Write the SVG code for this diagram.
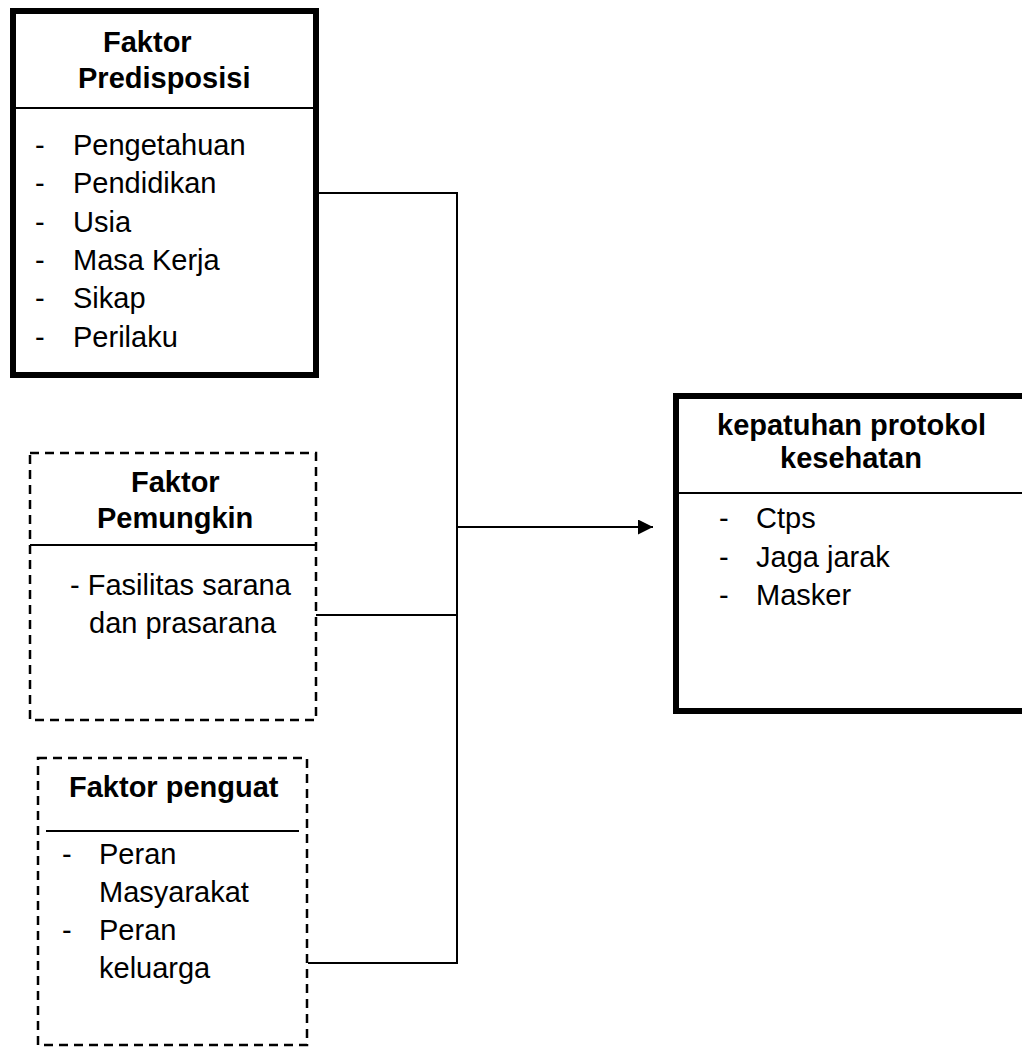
<svg xmlns="http://www.w3.org/2000/svg" width="1022" height="1055" viewBox="0 0 1022 1055">
<style>
text { font-family: "Liberation Sans", Arial, sans-serif; font-size: 29px; fill: #000; }
.b { font-weight: bold; }
.thick { fill: #fff; stroke: #000; stroke-width: 6; }
.dash { fill: #fff; stroke: #000; stroke-width: 2.5; stroke-dasharray: 9 6; }
.ln { stroke: #000; stroke-width: 2; fill: none; }
</style>
<defs>
<marker id="ah" viewBox="0 0 10 10" refX="10" refY="5" markerWidth="15" markerHeight="15" markerUnits="userSpaceOnUse" orient="auto">
<path d="M0,0 L10,5 L0,10 Z" fill="#000"/>
</marker>
</defs>
<rect width="1022" height="1055" fill="#fff"/>
<g id="connectors">
<polyline class="ln" points="319,193 457,193 457,963 308,963"/>
<line class="ln" x1="316" y1="615" x2="457" y2="615"/>
<line class="ln" x1="457" y1="527" x2="653" y2="527" marker-end="url(#ah)"/>
</g>
<g id="predisposisi">
<rect class="thick" x="13" y="11" width="303" height="364"/>
<line class="ln" x1="16" y1="108" x2="313" y2="108"/>
<text class="b" x="103" y="52">Faktor</text>
<text class="b" x="78" y="88">Predisposisi</text>
<text x="35" y="155">-</text><text x="73" y="155">Pengetahuan</text>
<text x="35" y="193">-</text><text x="73" y="193">Pendidikan</text>
<text x="35" y="232">-</text><text x="73" y="232">Usia</text>
<text x="35" y="270">-</text><text x="73" y="270">Masa Kerja</text>
<text x="35" y="308">-</text><text x="73" y="308">Sikap</text>
<text x="35" y="347">-</text><text x="73" y="347">Perilaku</text>
</g>
<g id="pemungkin">
<rect class="dash" x="30" y="453" width="286" height="267"/>
<line class="ln" x1="30" y1="545" x2="316" y2="545"/>
<text class="b" x="131" y="492">Faktor</text>
<text class="b" x="97" y="528">Pemungkin</text>
<text x="70" y="595">- Fasilitas sarana</text>
<text x="89" y="633">dan prasarana</text>
</g>
<g id="penguat">
<rect class="dash" x="38" y="758" width="269" height="287"/>
<line class="ln" x1="46" y1="831" x2="299" y2="831"/>
<text class="b" x="69" y="797">Faktor penguat</text>
<text x="62" y="864">-</text><text x="99" y="864">Peran</text>
<text x="99" y="902">Masyarakat</text>
<text x="62" y="940">-</text><text x="99" y="940">Peran</text>
<text x="99" y="978">keluarga</text>
</g>
<g id="kepatuhan">
<rect class="thick" x="676" y="396" width="360" height="315"/>
<line class="ln" x1="679" y1="493" x2="1022" y2="493"/>
<text class="b" x="717" y="435">kepatuhan protokol</text>
<text class="b" x="780" y="468">kesehatan</text>
<text x="719" y="528">-</text><text x="756" y="528">Ctps</text>
<text x="719" y="567">-</text><text x="756" y="567">Jaga jarak</text>
<text x="719" y="605">-</text><text x="756" y="605">Masker</text>
</g>
</svg>
